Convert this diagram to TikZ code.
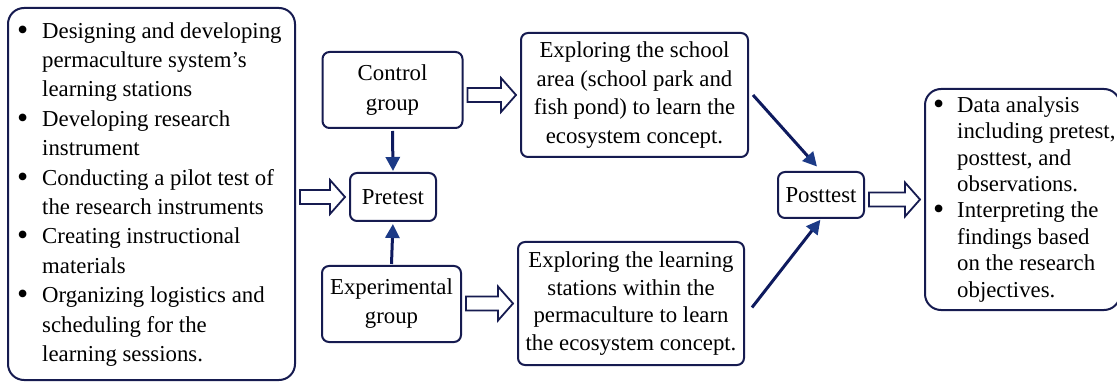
\documentclass[tikz,border=0pt]{standalone}
\usepackage{fontspec}
\usepackage{graphicx}
\setmainfont{Liberation Serif}
\usetikzlibrary{calc,arrows.meta}
\definecolor{navy}{HTML}{161B50}
\definecolor{linkblue}{HTML}{0E1A5E}
\definecolor{tipblue}{HTML}{1C3A86}

% list bullet, a little heavier than the plain text bullet
\newcommand\listdot{\raisebox{-0.08em}{\scalebox{1.4}{\textbullet}}}

% hollow block arrow from the east side of #1 to the west side of #2
\newcommand\hollowarrow[2]{%
  \draw[hollow] let \p1=(#1.east), \p2=(#2.west) in
    (\x1+4pt,\y2+7pt) -- (\x2-19pt,\y2+7pt) -- (\x2-19pt,\y2+17pt)
    -- (\x2-4pt,\y2) -- (\x2-19pt,\y2-17pt) -- (\x2-19pt,\y2-7pt)
    -- (\x1+4pt,\y2-7pt) -- cycle;}

\begin{document}
\begin{tikzpicture}[x=1pt,y=-1pt,
  box/.style={draw=navy, line width=2pt, rounded corners=7pt, fill=white,
    inner sep=0pt, align=center},
  bigbox/.style={box, rounded corners=16pt},
  txt/.style={font=\fontsize{22.8}{#1}\selectfont},
  listtext/.style={anchor=west, inner sep=0pt, align=left, txt=#1},
  hollow/.style={draw=navy, line width=1.8pt, fill=white, line join=miter},
  link/.style={draw=linkblue, line width=3pt,
    -{Triangle[length=14pt,width=14pt,color=tipblue]}}
]
\useasboundingbox (0,0) rectangle (1117,382);

% preparation stage
\node[bigbox, minimum width=287pt, minimum height=372pt] (prep) at (151.5,194) {};
\node[listtext=29.4] (prepText) at ([xshift=10pt]prep.west) {%
  \begin{tabular}{@{}p{25pt}@{}l@{}}
  \listdot & Designing and developing\\
           & permaculture system's\\
           & learning stations\\
  \listdot & Developing research\\
           & instrument\\
  \listdot & Conducting a pilot test of\\
           & the research instruments\\
  \listdot & Creating instructional\\
           & materials\\
  \listdot & Organizing logistics and\\
           & scheduling for the\\
           & learning sessions.
  \end{tabular}};

% groups and pretest
\node[box, txt=30, minimum width=140pt, minimum height=76pt] (control) at (392.5,90) {Control\\group};
\node[box, txt=28, minimum width=86pt, minimum height=48pt] (pretest) at (393,197) {Pretest};
\node[box, txt=29, minimum width=139pt, minimum height=76pt] (exper) at (391.5,304) {Experimental\\group};

% treatments
\node[box, txt=28.4, minimum width=227pt, minimum height=124pt] (school) at (634.5,95)
  {Exploring the school\\area (school park and\\fish pond) to learn the\\ecosystem concept.};
\node[box, txt=27.4, minimum width=226pt, minimum height=123pt] (stations) at (631,303.5)
  {Exploring the learning\\stations within the\\permaculture to learn\\the ecosystem concept.};

% posttest and analysis
\node[box, txt=28, minimum width=86pt, minimum height=46pt] (posttest) at (821,195) {Posttest};
\node[bigbox, minimum width=195pt, minimum height=221pt] (analysis) at (1022.5,199.5) {};
\node[listtext=26.4] (analysisText) at ([xshift=9pt]analysis.west) {%
  \begin{tabular}{@{}p{24pt}@{}l@{}}
  \listdot & Data analysis\\
           & including pretest,\\
           & posttest, and\\
           & observations.\\
  \listdot & Interpreting the\\
           & findings based\\
           & on the research\\
           & objectives.
  \end{tabular}};

% block arrows
\hollowarrow{prep}{pretest}
\hollowarrow{control}{school}
\hollowarrow{exper}{stations}
\hollowarrow{posttest}{analysis}

% solid arrows
\draw[link, shorten >=1pt] ([yshift=-2pt]control.south) -- (pretest.north);
\draw[link, shorten >=2pt] ([yshift=1pt]exper.north) -- (pretest.south);
\draw[link, shorten >=6pt] ([xshift=4pt]school.east) -- (posttest.north);
\draw[link, shorten >=1pt] ([xshift=7pt,yshift=-4pt]stations.east) -- (posttest.south);
\end{tikzpicture}
\end{document}
